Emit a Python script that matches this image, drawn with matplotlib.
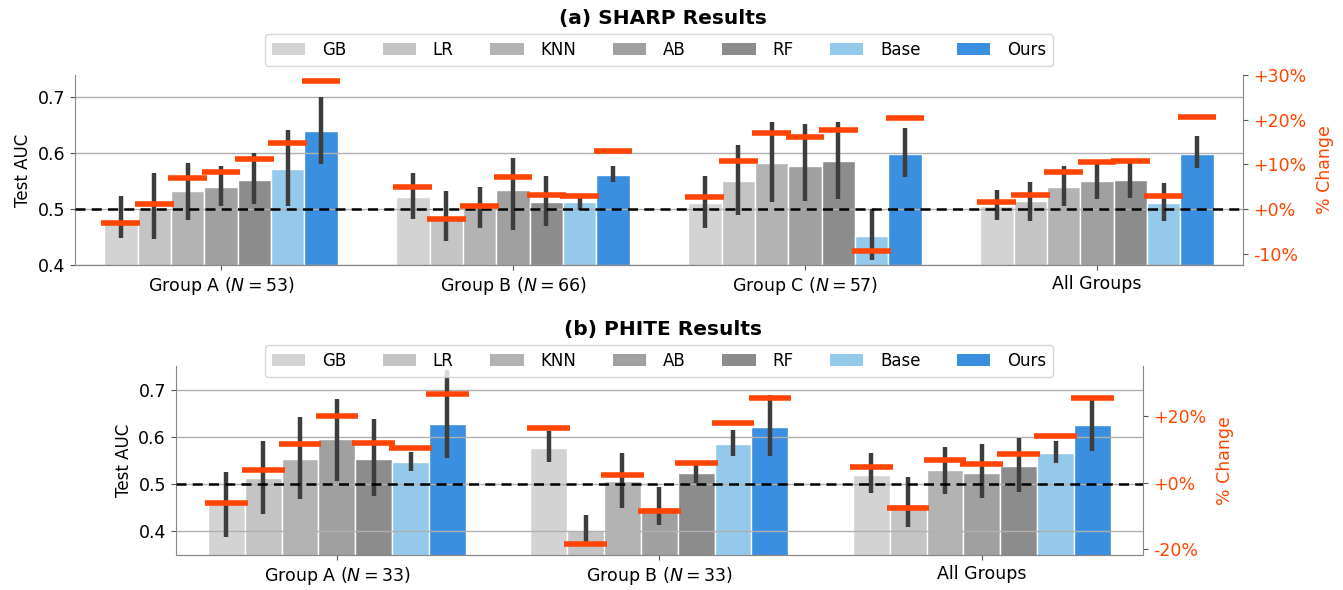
import matplotlib
matplotlib.use("Agg")
import matplotlib.pyplot as plt
import numpy as np
from matplotlib.patches import Patch
from matplotlib.ticker import FuncFormatter

methods = ["GB", "LR", "KNN", "AB", "RF", "Base", "Ours"]
colors = ["#d3d3d3", "#c4c4c4", "#b3b3b3", "#a0a0a0", "#8c8c8c", "#94c9ec", "#3a8fe0"]

# SHARP, rows = groups, columns = methods
sharp_groups = ["Group A ($N = 53$)", "Group B ($N = 66$)", "Group C ($N = 57$)", "All Groups"]
sharp_auc = [
    [0.483, 0.501, 0.532, 0.539, 0.553, 0.571, 0.640],
    [0.522, 0.482, 0.504, 0.534, 0.513, 0.512, 0.562],
    [0.5115, 0.551, 0.5825, 0.578, 0.586, 0.452, 0.599],
    [0.5055, 0.514, 0.5395, 0.550, 0.5515, 0.5115, 0.599],
]
sharp_lo = [
    [0.448, 0.446, 0.480, 0.506, 0.509, 0.505, 0.581],
    [0.482, 0.443, 0.467, 0.462, 0.470, 0.499, 0.549],
    [0.467, 0.489, 0.512, 0.515, 0.519, 0.409, 0.558],
    [0.4805, 0.479, 0.506, 0.519, 0.520, 0.479, 0.574],
]
sharp_hi = [
    [0.523, 0.564, 0.583, 0.577, 0.601, 0.641, 0.700],
    [0.565, 0.533, 0.539, 0.591, 0.560, 0.528, 0.578],
    [0.559, 0.615, 0.656, 0.653, 0.656, 0.500, 0.645],
    [0.534, 0.5485, 0.578, 0.588, 0.588, 0.546, 0.631],
]
sharp_pct = [
    [-3.0, 1.1, 6.9, 8.4, 11.3, 14.8, 28.6],
    [4.9, -2.2, 0.8, 7.2, 3.1, 2.9, 12.9],
    [2.7, 10.7, 17.0, 16.2, 17.8, -9.3, 20.5],
    [1.5, 3.2, 8.3, 10.6, 10.7, 2.9, 20.7],
]

# PHITE
phite_groups = ["Group A ($N = 33$)", "Group B ($N = 33$)", "All Groups"]
phite_auc = [
    [0.460, 0.514, 0.554, 0.595, 0.554, 0.547, 0.628],
    [0.576, 0.4025, 0.5057, 0.452, 0.523, 0.5855, 0.622],
    [0.520, 0.458, 0.530, 0.523, 0.539, 0.5665, 0.626],
]
phite_lo = [
    [0.389, 0.436, 0.469, 0.506, 0.474, 0.527, 0.555],
    [0.547, 0.370, 0.449, 0.413, 0.502, 0.560, 0.560],
    [0.481, 0.409, 0.480, 0.470, 0.4825, 0.5445, 0.5707],
]
phite_hi = [
    [0.525, 0.591, 0.643, 0.681, 0.6385, 0.569, 0.742],
    [0.612, 0.4357, 0.566, 0.494, 0.549, 0.614, 0.689],
    [0.566, 0.515, 0.578, 0.585, 0.5975, 0.592, 0.681],
]
phite_pct = [
    [-6.0, 3.9, 11.7, 20.1, 12.0, 10.5, 26.6],
    [16.3, -18.4, 2.2, -8.4, 5.8, 18.0, 25.3],
    [4.8, -7.6, 6.7, 5.5, 8.5, 14.0, 25.5],
]

plt.rcParams["font.family"] = ["DejaVu Sans"]

fig = plt.figure(figsize=(13.43, 5.9), dpi=100)


def panel(rect, groups, auc, lo, hi, pct, ylim, ylim2, pticks, title, title_y, leg_y):
    ax = fig.add_axes(rect)
    ax2 = ax.twinx()
    auc = np.array(auc)
    lo = np.array(lo)
    hi = np.array(hi)
    pct = np.array(pct)
    x = np.arange(len(groups))
    w = 0.8 / len(methods)
    for j, m in enumerate(methods):
        pos = x + (j - 3) * w
        ax.bar(pos, auc[:, j], width=w, color=colors[j], edgecolor="white",
               linewidth=1, zorder=1, label=m)
        ax.vlines(pos, lo[:, j], hi[:, j], color="#3d3d3d", linewidth=3.2, zorder=3)
        ax2.hlines(pct[:, j], pos - 0.58 * w, pos + 0.58 * w, color="#ff4500",
                   linewidth=4, zorder=4)
    ax.axhline(0.5, color="black", linestyle="--", linewidth=1.8, dashes=(4, 2.5), zorder=5)
    ax.set_xlim(-0.5, len(groups) - 0.5)
    ax.set_ylim(*ylim)
    ax2.set_ylim(*ylim2)
    ax.set_xticks(x)
    ax.set_xticklabels(groups, fontsize=12.5)
    ax.set_yticks([0.4, 0.5, 0.6, 0.7])
    ax.tick_params(axis="y", labelsize=12.5, color="#555555")
    ax.tick_params(axis="x", color="#555555")
    ax.grid(axis="y", color="#b0b0b0", linewidth=1)
    ax.set_axisbelow(False)
    ax.set_ylabel("Test AUC", fontsize=12)
    ax2.set_yticks(pticks)
    ax2.yaxis.set_major_formatter(FuncFormatter(lambda v, p: f"{v:+.0f}%".replace("+-", "-")))
    ax2.tick_params(axis="y", labelsize=12.5, labelcolor="#ff4500", color="#555555")
    ax2.set_ylabel("% Change", fontsize=12.5, color="#ff4500", labelpad=7)
    for a in (ax, ax2):
        a.spines["top"].set_visible(False)
        for s in ("left", "right", "bottom"):
            a.spines[s].set_color("#888888")
    ax2.spines["left"].set_visible(False)
    ax.spines["right"].set_visible(False)
    fig.text(0.4935, title_y, title, ha="center", va="center", fontsize=14.5, fontweight="bold")
    handles = [Patch(facecolor=c, label=m) for m, c in zip(methods, colors)]
    fig.legend(handles=handles, loc="center", bbox_to_anchor=(0.4907, leg_y), ncol=7,
               fontsize=12, columnspacing=2.2, handlelength=2.0, handletextpad=1.0,
               borderpad=0.4, edgecolor="#cccccc")
    return ax, ax2


panel([0.0558, 0.5508, 0.8697, 0.322], sharp_groups, sharp_auc, sharp_lo, sharp_hi,
      sharp_pct, (0.4, 0.74), (-12.5, 30), [-10, 0, 10, 20, 30],
      "(a) SHARP Results", 0.969, 0.915)
panel([0.1308, 0.0593, 0.7203, 0.3203], phite_groups, phite_auc, phite_lo, phite_hi,
      phite_pct, (0.35, 0.75), (-21.7, 35.0), [-20, 0, 20],
      "(b) PHITE Results", 0.441, 0.388)

fig.savefig("out.png", dpi=100)
